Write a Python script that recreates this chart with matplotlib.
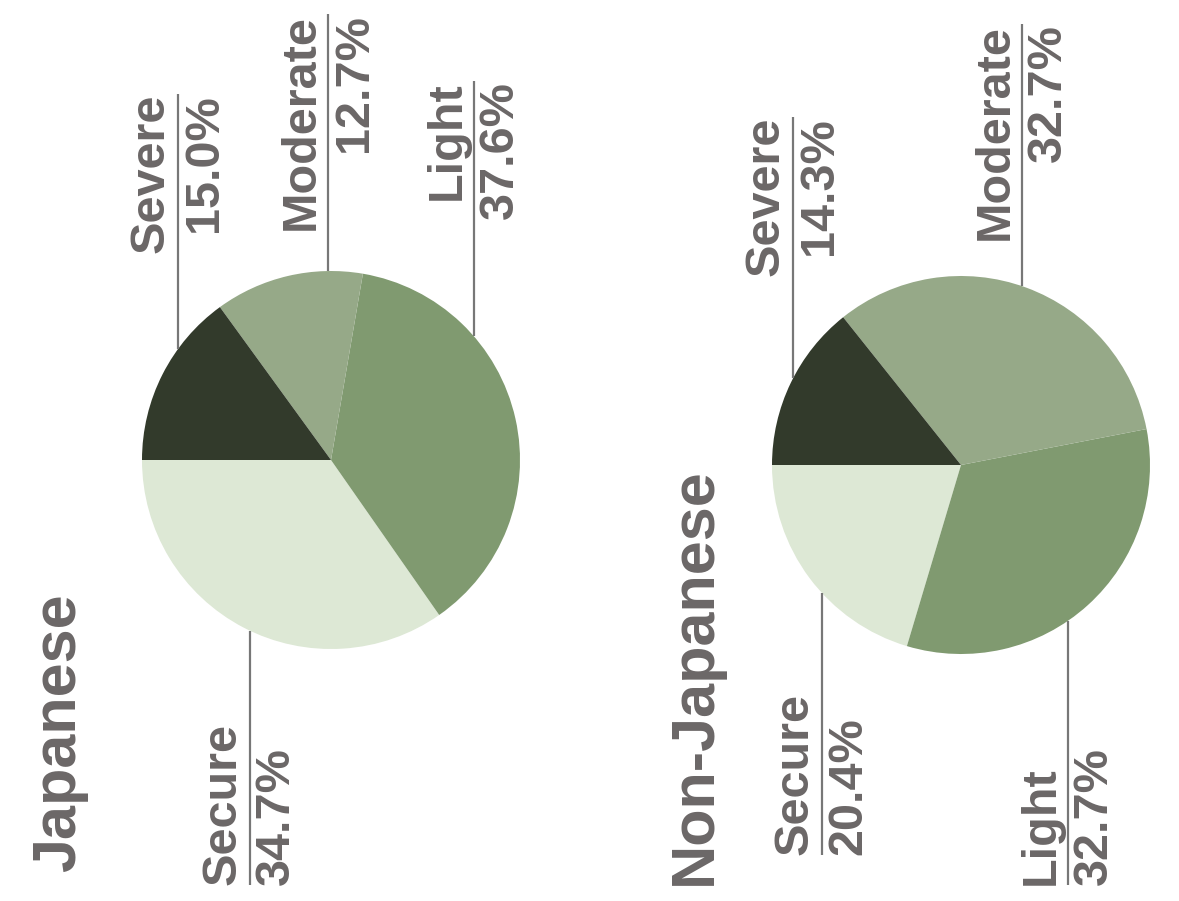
import matplotlib.pyplot as plt
import numpy as np

W, H = 1179, 901

labels = ["Secure", "Light", "Moderate", "Severe"]
colors = ["#dde8d5", "#809a70", "#96a988", "#323a2b"]
jp_values = [34.7, 37.6, 12.7, 15.0]
nonjp_values = [20.4, 32.7, 32.7, 14.3]
titles = ["Japanese", "Non-Japanese"]

TEXT = "#6b6767"
LINE = "#777777"
FONT = "Liberation Sans"

fig = plt.figure(figsize=(W / 100, H / 100), dpi=100)
ax = fig.add_axes([0, 0, 1, 1])
ax.set_xlim(0, W)
ax.set_ylim(H, 0)
ax.set_aspect("equal")
ax.axis("off")

R = 189
# pie centres (pixel space), title position, and per-label (line x, line end y, side)
panels = [
    dict(values=jp_values, center=(331, 460), title_x=60, title_y=872,
         leaders={"Severe": (178, 94, "top"), "Moderate": (328, 14, "top"),
                  "Light": (474, 81, "top"), "Secure": (250, 885, "bottom")}),
    dict(values=nonjp_values, center=(961, 465), title_x=695, title_y=885,
         leaders={"Severe": (793, 117, "top"), "Moderate": (1022, 24, "top"),
                  "Light": (1068, 885, "bottom"), "Secure": (822, 855, "bottom")}),
]

for p, title in zip(panels, titles):
    cx, cy = p["center"]
    # y axis is inverted, so counterclock=False gives screen counter-clockwise
    ax.pie(p["values"], colors=colors, startangle=180, counterclock=False,
           center=(cx, cy), radius=R, frame=True,
           wedgeprops=dict(linewidth=0))
    ax.text(p["title_x"], p["title_y"], title, rotation=90, ha="center",
            va="bottom", fontsize=44, color=TEXT, family=FONT, weight="bold")
    for lab, val in zip(labels, p["values"]):
        lx, ly, side = p["leaders"][lab]
        dy = np.sqrt(R ** 2 - (lx - cx) ** 2)
        edge = cy - dy if side == "top" else cy + dy
        ax.plot([lx, lx], [ly, edge], color=LINE, lw=1.6, solid_capstyle="butt")
        va = "top" if side == "top" else "bottom"
        ax.text(lx - 4, ly, lab, rotation=90, ha="right", va=va,
                fontsize=35, color=TEXT, family=FONT, weight="bold")
        ax.text(lx + 4, ly, f"{val:.1f}%", rotation=90, ha="left", va=va,
                fontsize=35, color=TEXT, family=FONT, weight="bold")

ax.set_xlim(0, W)
ax.set_ylim(H, 0)
ax.axis("off")
fig.savefig("out.png", dpi=100)
